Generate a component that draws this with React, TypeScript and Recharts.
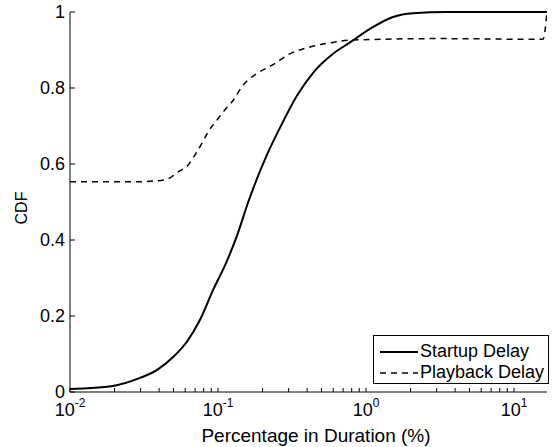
import React from 'react';
import { LineChart, Line, XAxis, YAxis, Legend } from 'recharts';

const FONT = '"Liberation Sans", Arial, Helvetica, sans-serif';

// Startup Delay CDF points: [percentage in duration, CDF]
const startupX = [0.01, 0.0195, 0.0297, 0.0388, 0.0497, 0.0618, 0.0756, 0.0925, 0.115, 0.134, 0.16, 0.214, 0.262, 0.342, 0.439, 0.599, 0.78, 1.11, 1.52, 2.08, 3.5, 16.7];
const startupY = [0.008, 0.016, 0.037, 0.058, 0.092, 0.133, 0.19, 0.268, 0.345, 0.41, 0.5, 0.624, 0.695, 0.78, 0.84, 0.89, 0.92, 0.96, 0.987, 0.997, 1.0, 1.0];

// Playback Delay CDF points
const playbackX = [0.01, 0.0297, 0.0364, 0.0452, 0.0537, 0.0627, 0.0699, 0.078, 0.0856, 0.0985, 0.111, 0.124, 0.148, 0.186, 0.232, 0.306, 0.419, 0.599, 0.78, 3.16, 15.7, 16.7];
const playbackY = [0.553, 0.553, 0.555, 0.56, 0.579, 0.597, 0.624, 0.655, 0.684, 0.716, 0.742, 0.763, 0.808, 0.84, 0.86, 0.89, 0.908, 0.92, 0.926, 0.93, 0.928, 1.0];

const majorTicks = [0.01, 0.1, 1, 10];
const minorTicks = [0.02, 0.03, 0.04, 0.05, 0.06, 0.07, 0.08, 0.09, 0.2, 0.3, 0.4, 0.5, 0.6, 0.7, 0.8, 0.9, 2, 3, 4, 5, 6, 7, 8, 9];
const xTicks = [...majorTicks, ...minorTicks].sort((a, b) => a - b);
const yTicks = [0, 0.2, 0.4, 0.6, 0.8, 1];

const seriesNames = ['Startup Delay', 'Playback Delay'];

const startupData = startupX.map((x, i) => ({ x, y: startupY[i] }));
const playbackData = playbackX.map((x, i) => ({ x, y: playbackY[i] }));

const XTick = (props: any) => {
  const { x, y, payload } = props;
  const v = payload.value;
  const e = Math.round(Math.log10(v));
  if (!majorTicks.includes(v)) return <g />;
  return (
    <text x={x} y={y + 1} textAnchor="middle" fontSize={18} fill="#000" fontFamily={FONT}>
      <tspan>10</tspan>
      <tspan dy={-9} fontSize={12}>{String(e)}</tspan>
    </text>
  );
};

const LegendBox = () => (
  <div
    style={{
      border: '1px solid #000',
      background: '#fff',
      width: 176,
      height: 49,
      boxSizing: 'border-box',
      position: 'relative',
      fontFamily: FONT,
      fontSize: 18,
      color: '#000',
    }}
  >
    {seriesNames.map((name, i) => (
      <div
        key={name}
        style={{ position: 'absolute', left: 6, top: 5 + i * 21, height: 21, display: 'flex', alignItems: 'center', whiteSpace: 'nowrap' }}
      >
        <svg width={38} height={10} style={{ display: 'block' }}>
          <line
            x1={0}
            y1={5}
            x2={38}
            y2={5}
            stroke="#000"
            strokeWidth={i === 0 ? 2 : 1.5}
            strokeDasharray={i === 0 ? undefined : '6 5'}
          />
        </svg>
        <span style={{ marginLeft: 2, lineHeight: '21px' }}>{name}</span>
      </div>
    ))}
  </div>
);

export default function App() {
  return (
    <div style={{ width: 554, height: 447 }}>
      <style>{'html,body{margin:0;padding:0;overflow:hidden;}'}</style>
      <LineChart width={554} height={447} margin={{ top: 12, right: 7, bottom: 0, left: 0 }}>
        <XAxis
          xAxisId="main"
          dataKey="x"
          type="number"
          scale="log"
          domain={[0.01, 16.7]}
          allowDataOverflow
          ticks={xTicks}
          interval={0}
          height={55}
          stroke="#000"
          tickSize={-4}
          tickMargin={27}
          tick={<XTick />}
          label={() => (
            <text x={316} y={442} textAnchor="middle" fontSize={19} fontFamily={FONT} fill="#000">
              Percentage in Duration (%)
            </text>
          )}
        />
        <XAxis
          xAxisId="top"
          orientation="top"
          dataKey="x"
          type="number"
          scale="log"
          domain={[0.01, 16.7]}
          allowDataOverflow
          ticks={majorTicks}
          interval={0}
          height={0}
          stroke="#000"
          tickSize={-4}
          tick={false}
        />
        <YAxis
          type="number"
          domain={[0, 1]}
          ticks={yTicks}
          interval={0}
          width={70}
          stroke="#000"
          tickSize={-5}
          tickMargin={10}
          tickFormatter={(v: number) => (v === 0 ? '0' : v === 1 ? '1' : v.toFixed(1))}
          tick={{ fontSize: 18, fill: '#000', fontFamily: FONT }}
          label={() => (
            <text
              x={23}
              y={208}
              transform="rotate(-90 23 208)"
              textAnchor="middle"
              dominantBaseline="middle"
              fontSize={16}
              fontFamily={FONT}
              fill="#000"
            >
              CDF
            </text>
          )}
        />
        <Line
          xAxisId="main"
          data={startupData}
          dataKey="y"
          name={seriesNames[0]}
          type="monotone"
          stroke="#000"
          strokeWidth={2}
          dot={false}
          isAnimationActive={false}
        />
        <Line
          xAxisId="main"
          data={playbackData}
          dataKey="y"
          name={seriesNames[1]}
          type="monotone"
          stroke="#000"
          strokeWidth={1.5}
          strokeDasharray="6 5"
          dot={false}
          isAnimationActive={false}
        />
        <Legend
          content={<LegendBox />}
          layout="vertical"
          align="center"
          verticalAlign="middle"
          wrapperStyle={{ left: 373, top: 335, width: 176, height: 49 }}
        />
      </LineChart>
    </div>
  );
}
